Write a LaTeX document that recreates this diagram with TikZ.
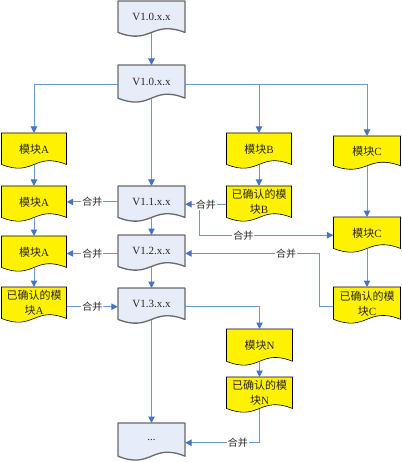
\documentclass[tikz,border=0pt]{standalone}
\usepackage{fontspec}
\setmainfont{Liberation Serif}
\newfontfamily\cjk{Noto Sans CJK SC}
\usetikzlibrary{arrows.meta,calc}

\definecolor{docblue}{RGB}{230,236,248}
\definecolor{docedge}{RGB}{105,105,105}
\definecolor{ln}{RGB}{110,150,215}
\definecolor{tipc}{RGB}{70,115,195}
\definecolor{txt}{RGB}{40,40,40}

\tikzset{
  bluedoc/.style={font=\fontsize{11}{14}\selectfont, text=txt, align=center},
  bluedocout/.style={draw=docedge, line width=1.3pt, fill=docblue, line join=round},
  yeldoc/.style={font=\fontsize{11}{15}\selectfont, text=txt, align=center},
  yeldocout/.style={draw=black, line width=0.6pt, fill=yellow},
  conn/.style={draw=ln, line width=1pt, -{Triangle[length=6.5pt,width=6.5pt,fill=tipc,color=tipc]}},
  lbl/.style={fill=white, inner sep=1pt, text=txt, font=\cjk\fontsize{10}{12}\selectfont}
}

\newcommand\mkdoc[7]{%
  \draw[#1out] ({#3-#5/2},#4) -- ({#3+#5/2},#4) -- ({#3+#5/2},{#4+0.85*#6})
    .. controls +({-0.5*#5},{-0.35*#6}) and +({0.5*#5},{0.35*#6}) .. ({#3-#5/2},{#4+0.85*#6}) -- cycle;
  \node[#1, anchor=north, minimum width=#5pt, minimum height={0.85*#6pt}, inner sep=0pt] (#2) at (#3,#4) {#7};
}

\begin{document}
\begin{tikzpicture}[x=1pt,y=-1pt]
\useasboundingbox (0,0) rectangle (401,462);

% blue documents
\mkdoc{bluedoc}{v10a}{151.5}{1}{67}{37}{V1.0.x.x}
\mkdoc{bluedoc}{v10b}{151.5}{65}{67}{39}{V1.0.x.x}
\mkdoc{bluedoc}{v11}{151.5}{186}{67}{37}{V1.1.x.x}
\mkdoc{bluedoc}{v12}{151.5}{235}{67}{37}{V1.2.x.x}
\mkdoc{bluedoc}{v13}{151.5}{288}{67}{37}{V1.3.x.x}
\mkdoc{bluedoc}{vdots}{151.5}{423}{67}{39}{...}

% module A
\mkdoc{yeldoc}{a1}{34}{133}{65}{37}{{\cjk 模块}A}
\mkdoc{yeldoc}{a2}{34}{186}{65}{37}{{\cjk 模块}A}
\mkdoc{yeldoc}{a3}{34}{236}{65}{37}{{\cjk 模块}A}
\mkdoc{yeldoc}{aok}{34}{287}{65}{37}{{\cjk 已确认的模}\\{\cjk 块}A}
% module B
\mkdoc{yeldoc}{b1}{259}{133}{65}{37}{{\cjk 模块}B}
\mkdoc{yeldoc}{bok}{259}{186}{65}{37}{{\cjk 已确认的模}\\{\cjk 块}B}
% module C
\mkdoc{yeldoc}{c1}{367}{136}{67}{35}{{\cjk 模块}C}
\mkdoc{yeldoc}{c2}{367}{217}{67}{37}{{\cjk 模块}C}
\mkdoc{yeldoc}{cok}{367}{287}{67}{38}{{\cjk 已确认的模}\\{\cjk 块}C}
% module N
\mkdoc{yeldoc}{n1}{259.5}{329}{66}{38}{{\cjk 模块}N}
\mkdoc{yeldoc}{nok}{259.5}{377}{66}{37}{{\cjk 已确认的模}\\{\cjk 块}N}

% connectors
\draw[conn] (v10a.south) -- (v10b.north);
\coordinate (v10bw) at ([yshift=-2.4pt]v10b.west);
\coordinate (v10be) at ([yshift=-2.4pt]v10b.east);
\draw[conn] (v10bw) -| (a1.north);
\draw[conn] (v10be) -| (b1.north);
\draw[conn] (v10be) -| (c1.north);
\draw[conn] (v10b.south) -- (v11.north);
\draw[conn] (v11.south) -- (v12.north);
\draw[conn] (v12.south) -- (v13.north);
\draw[conn] (v13.south) -- (vdots.north);

\draw[conn] (a1.south) -- (a2.north);
\draw[conn] (a2.south) -- (a3.north);
\draw[conn] (a3.south) -- (aok.north);
\draw[conn] (b1.south) -- (bok.north);
\draw[conn] (c1.south) -- (c2.north);
\draw[conn] (c2.south) -- (cok.north);
\draw[conn] (n1.south) -- (nok.north);

\draw[conn] (v11.west) -- node[lbl]{合并} (v11.west -| a2.east);
\coordinate (v11e) at ([yshift=-2.3pt]v11.east);
\coordinate (c2w) at ([yshift=-2.3pt]c2.west);
\draw[conn] (v11e) -- ++(14,0) |- node[lbl,pos=0.665]{合并} (c2w);
\draw[conn] ([yshift=-2.3pt]bok.west) -- node[lbl]{合并} (v11e);

\coordinate (v12w) at ([yshift=-2.5pt]v12.west);
\draw[conn] (v12w) -- node[lbl]{合并} (v12w -| a3.east);
\coordinate (v12e) at ([yshift=-2.5pt]v12.east);
\draw[conn] ([yshift=-3.3pt]cok.west) -- ++(-13.5,0) |- node[lbl,pos=0.625]{合并} (v12e);

\coordinate (aoke) at ([yshift=-3.8pt]aok.east);
\draw[conn] (aoke) -- node[lbl]{合并} (aoke -| v13.west);
\draw[conn] ([yshift=-2.3pt]v13.east) -| (n1.north);
\draw[conn] (nok.south) |- node[lbl,pos=0.645]{合并} ([yshift=-3pt]vdots.east);
\end{tikzpicture}
\end{document}
